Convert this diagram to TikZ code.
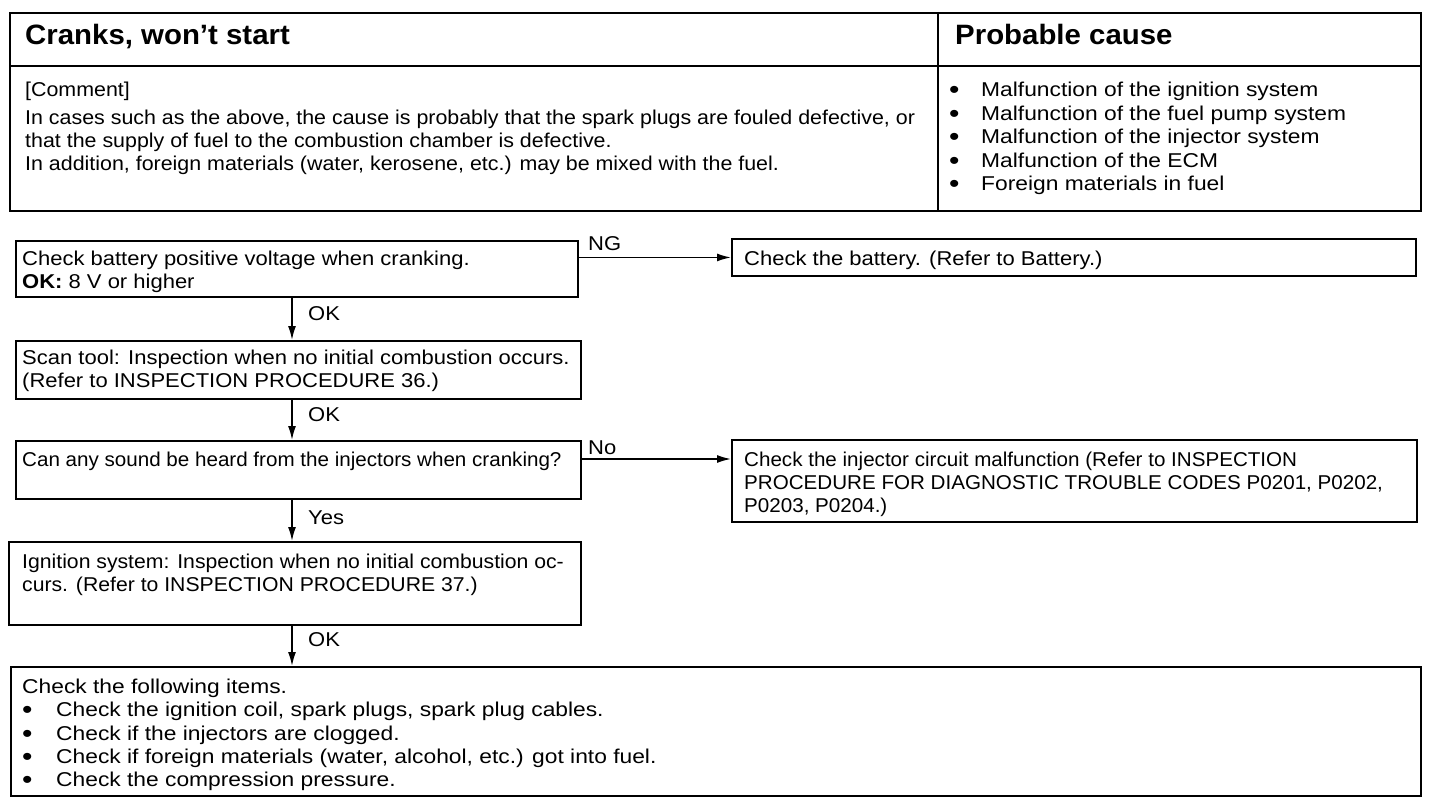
\documentclass[tikz,border=0pt]{standalone}
\usepackage{fontspec}
\setmainfont{Liberation Sans}
\newfontfamily\fH[FakeStretch=1.05]{Liberation Sans}
\newfontfamily\fA[FakeStretch=1.07]{Liberation Sans}
\newfontfamily\fB[FakeStretch=1.10]{Liberation Sans}
\newfontfamily\fC[FakeStretch=1.14]{Liberation Sans}
\newfontfamily\fD[FakeStretch=1.03]{Liberation Sans}
\newfontfamily\fE[FakeStretch=1.06]{Liberation Sans}
\usetikzlibrary{arrows.meta}
\newcommand\myblt[1]{\makebox[#1][l]{\raisebox{-2pt}{\smash{\fontsize{26}{23}\selectfont\textbullet}}}}
\begin{document}
\begin{tikzpicture}[x=1pt,y=-1pt,
  box/.style={draw,line width=1.9pt,anchor=north west,inner sep=0pt,rectangle},
  txt/.style={anchor=north west,inner sep=0pt,align=left,font=\fontsize{20}{23}\selectfont},
  lbl/.style={anchor=base west,inner sep=0pt,font=\fontsize{20}{23}\selectfont\fB},
  head/.style={anchor=base west,inner sep=0pt,font=\fontsize{28}{30}\selectfont\fH\bfseries},
  arr/.style={line width=1.6pt,-{Latex[length=14pt,width=8pt]}}]
\useasboundingbox (0,0) rectangle (1440,802);
% top table
\node[box,line width=2.3pt,minimum width=1411,minimum height=198] (tbl) at (9,12) {};
\draw[line width=1.7pt] (tbl.west |- 0,66) coordinate (dl) -- (tbl.east |- 0,66) coordinate (dr);
\draw[line width=1.7pt] (tbl.north -| 938,0) coordinate (vt) -- (tbl.south -| 938,0) coordinate (vb);
\node[head] (h1) at (25,45) {Cranks, won’t start};
\node[head] (h2) at (955,45) {Probable cause};
\node[txt,font=\fontsize{20}{23}\selectfont\fA] (cm) at (25,82) {[Comment]};
\node[txt,font=\fontsize{20}{23}\selectfont\fA] (ct) at (25,110) {In cases such as the above, the cause is probably that the spark plugs are fouled defective, or\\
that the supply of fuel to the combustion chamber is defective.\\
In addition, foreign materials (water, kerosene, etc.) may be mixed with the fuel.};
\node[txt,font=\fontsize{20}{23.5}\selectfont\fC] (pc) at (949,82) {\myblt{32pt}Malfunction of the ignition system\\
\myblt{32pt}Malfunction of the fuel pump system\\
\myblt{32pt}Malfunction of the injector system\\
\myblt{32pt}Malfunction of the ECM\\
\myblt{32pt}Foreign materials in fuel};
% flow boxes
\node[box,minimum width=562,minimum height=56] (b1) at (15,240) {};
\node[txt,font=\fontsize{20}{23}\selectfont\fB] (t1) at (22,251) {Check battery positive voltage when cranking.\\\textbf{OK:} 8 V or higher};
\node[box,minimum width=684,minimum height=37] (r1) at (731,238) {};
\node[txt,font=\fontsize{20}{23}\selectfont\fB] (tr1) at (744,251) {Check the battery. (Refer to Battery.)};
\node[box,minimum width=565,minimum height=58] (b2) at (15,340) {};
\node[txt,font=\fontsize{20}{23}\selectfont\fB] (t2) at (22,350) {Scan tool: Inspection when no initial combustion occurs.\\(Refer to INSPECTION PROCEDURE 36.)};
\node[box,minimum width=565,minimum height=58] (b3) at (15,440) {};
\node[txt,font=\fontsize{20}{23}\selectfont\fD] (t3) at (22,452) {Can any sound be heard from the injectors when cranking?};
\node[box,minimum width=685,minimum height=82] (r2) at (731,439) {};
\node[txt,font=\fontsize{20}{23}\selectfont\fD] (tr2) at (744,452) {Check the injector circuit malfunction (Refer to INSPECTION\\PROCEDURE FOR DIAGNOSTIC TROUBLE CODES P0201, P0202,\\P0203, P0204.)};
\node[box,minimum width=572,minimum height=83] (b4) at (8,541) {};
\node[txt,font=\fontsize{20}{23}\selectfont\fE] (t4) at (22,554) {Ignition system: Inspection when no initial combustion oc-\\curs. (Refer to INSPECTION PROCEDURE 37.)};
\node[box,minimum width=1410,minimum height=129] (b5) at (10,666) {};
\node[txt,font=\fontsize{20}{23.3}\selectfont\fC] (t5) at (22,679) {Check the following items.\\
\myblt{34pt}Check the ignition coil, spark plugs, spark plug cables.\\
\myblt{34pt}Check if the injectors are clogged.\\
\myblt{34pt}Check if foreign materials (water, alcohol, etc.) got into fuel.\\
\myblt{34pt}Check the compression pressure.};
% connectors
\coordinate (ax) at (292,0);
\draw[arr] (b1.south -| ax) -- (b2.north -| ax);
\draw[arr] (b2.south -| ax) -- (b3.north -| ax);
\draw[arr] (b3.south -| ax) -- (b4.north -| ax);
\draw[arr] (b4.south -| ax) -- (b5.north -| ax);
\draw[arr] (b1.east |- r1.west) -- (r1.west);
\coordinate (np) at (580,459);
\draw[arr] (np) -- (np -| r2.west);
% labels
\node[lbl] (l1) at (588,251) {NG};
\node[lbl] (l2) at (308,320) {OK};
\node[lbl] (l3) at (308,421) {OK};
\node[lbl] (l4) at (588,454) {No};
\node[lbl] (l5) at (308,524) {Yes};
\node[lbl] (l6) at (308,646) {OK};
\end{tikzpicture}
\end{document}
